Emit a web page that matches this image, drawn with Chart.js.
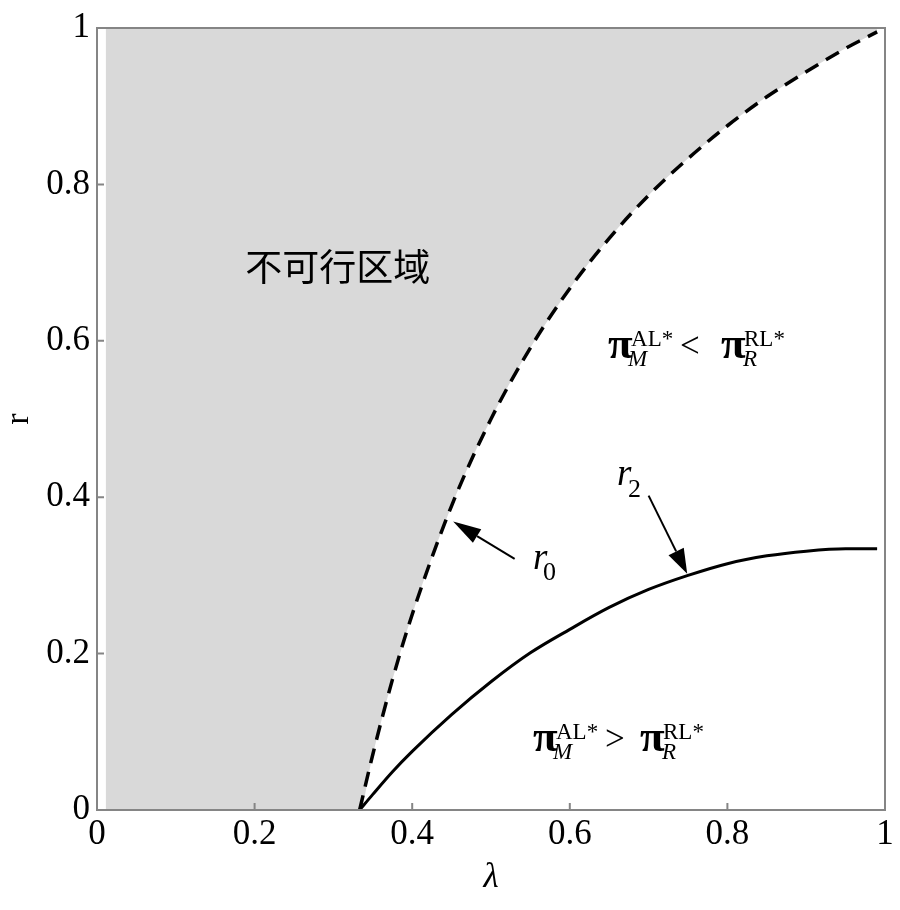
<!DOCTYPE html>
<html>
<head>
<meta charset="utf-8">
<script src="https://cdn.jsdelivr.net/npm/chart.js@4.4.1/dist/chart.umd.min.js"></script>
<style>
  html, body { margin: 0; padding: 0; background: #fff; }
</style>
</head>
<body>
<canvas id="chart" width="900" height="910"></canvas>
<script>
// values
const lambdaVals = [0.3333, 0.35, 0.375, 0.4, 0.45, 0.5, 0.55, 0.6, 0.65, 0.7, 0.75, 0.8, 0.85, 0.9, 0.95, 0.99];
const r0Vals = [0, 0.071, 0.167, 0.25, 0.389, 0.5, 0.591, 0.667, 0.731, 0.786, 0.833, 0.875, 0.912, 0.944, 0.974, 0.995];
const r2Vals = [0, 0.020, 0.049, 0.075, 0.122, 0.164, 0.201, 0.231, 0.259, 0.282, 0.300, 0.315, 0.325, 0.331, 0.334, 0.334];
// left edge of the shaded (infeasible) region, along r = 0
const boundaryLambda = [0.011, 0.3333];
const boundaryR = [0, 0];
const tickVals = [0, 0.2, 0.4, 0.6, 0.8, 1];

const toPts = (xs, ys) => xs.map((v, i) => ({ x: v, y: ys[i] }));

const SERIF = "'Liberation Serif', 'DejaVu Serif', serif";

// frame + inward ticks
const framePlugin = {
    id: "frame",
    afterDatasetsDraw(chart) {
        const { ctx, chartArea: a, scales: { x, y } } = chart;
        ctx.save();
        ctx.strokeStyle = "#858585";
        ctx.lineWidth = 2;
        ctx.strokeRect(a.left, a.top, a.right - a.left, a.bottom - a.top);
        ctx.beginPath();
        tickVals.forEach(v => {
            const px = x.getPixelForValue(v);
            ctx.moveTo(px, a.bottom);
            ctx.lineTo(px, a.bottom - 7);
            const py = y.getPixelForValue(v);
            ctx.moveTo(a.left, py);
            ctx.lineTo(a.left + 7, py);
        });
        ctx.stroke();
        ctx.restore();
    }
};

function arrow(ctx, x1, y1, x2, y2, headLen, headW) {
    const ang = Math.atan2(y2 - y1, x2 - x1);
    const bx = x2 - headLen * Math.cos(ang), by = y2 - headLen * Math.sin(ang);
    ctx.beginPath();
    ctx.moveTo(x1, y1);
    ctx.lineTo(bx, by);
    ctx.stroke();
    ctx.beginPath();
    ctx.moveTo(x2, y2);
    ctx.lineTo(bx + headW / 2 * Math.sin(ang), by - headW / 2 * Math.cos(ang));
    ctx.lineTo(bx - headW / 2 * Math.sin(ang), by + headW / 2 * Math.cos(ang));
    ctx.closePath();
    ctx.fill();
}

// pi_M^{AL*} (rel) pi_R^{RL*}
function piLabel(ctx, px, py, rel, relDx, pi2Dx) {
    ctx.textBaseline = "alphabetic";
    ctx.textAlign = "left";
    ctx.font = "bold 45px " + SERIF;
    ctx.fillText("π", px, py);
    ctx.fillText("π", px + pi2Dx, py);
    ctx.font = "23px " + SERIF;
    ctx.fillText("AL*", px + 23, py - 12);
    ctx.fillText("RL*", px + pi2Dx + 23, py - 12);
    ctx.font = "italic 23px " + SERIF;
    ctx.fillText("M", px + 20, py + 8);
    ctx.fillText("R", px + pi2Dx + 22, py + 8);
    ctx.font = "35px " + SERIF;
    ctx.fillText(rel, px + relDx, py - 1);
}

const annotPlugin = {
    id: "annot",
    afterDraw(chart) {
        const { ctx, scales: { x, y } } = chart;
        const X = v => x.getPixelForValue(v), Y = v => y.getPixelForValue(v);
        ctx.save();
        ctx.fillStyle = "#000";
        ctx.strokeStyle = "#000";

        ctx.font = "37px 'Noto Sans CJK SC'";
        ctx.textBaseline = "middle";
        ctx.fillText("不可行区域", X(0.188), Y(0.695));

        piLabel(ctx, X(0.6485), Y(0.5774), "<", 72, 113);
        piLabel(ctx, X(0.5533), Y(0.0749), ">", 72, 107);

        ctx.textBaseline = "alphabetic";
        ctx.font = "italic 37px " + SERIF;
        ctx.fillText("r", X(0.5533), Y(0.3084));
        ctx.fillText("r", X(0.6599), Y(0.415));
        ctx.font = "26px " + SERIF;
        ctx.fillText("0", X(0.5533) + 10, Y(0.3084) + 11);
        ctx.fillText("2", X(0.6599) + 11, Y(0.415) + 12);

        ctx.lineWidth = 2;
        arrow(ctx, X(0.530), Y(0.321), X(0.452), Y(0.369), 28, 16);
        arrow(ctx, X(0.700), Y(0.402), X(0.749), Y(0.302), 25, 17);
        ctx.restore();
    }
};

new Chart(document.getElementById("chart"), {
    type: "scatter",
    data: {
        datasets: [
            {
                label: "r0",
                data: toPts(lambdaVals, r0Vals),
                showLine: true,
                borderColor: "#000",
                borderWidth: 3.5,
                borderDash: [15, 9],
                pointRadius: 0,
                fill: false,
                cubicInterpolationMode: "monotone",
                order: 1
            },
            {
                label: "r2",
                data: toPts(lambdaVals, r2Vals),
                showLine: true,
                borderColor: "#000",
                borderWidth: 3,
                pointRadius: 0,
                fill: false,
                cubicInterpolationMode: "monotone",
                order: 1
            },
            {
                // shaded infeasible region above r0 (drawn underneath)
                data: toPts(boundaryLambda, boundaryR).concat(toPts(lambdaVals, r0Vals)),
                showLine: true,
                borderWidth: 0,
                borderColor: "rgba(0,0,0,0)",
                backgroundColor: "#d9d9d9",
                fill: "end",
                pointRadius: 0,
                cubicInterpolationMode: "monotone",
                order: 10
            }
        ]
    },
    options: {
        responsive: false,
        devicePixelRatio: 1,
        animation: false,
        layout: { padding: { top: 21, right: 15, left: 0, bottom: 0 } },
        plugins: { legend: { display: false }, tooltip: { enabled: false } },
        scales: {
            x: {
                type: "linear",
                min: 0,
                max: 1,
                afterFit: s => { s.height = 100; },
                grid: { display: false, drawTicks: false },
                border: { display: false },
                ticks: {
                    stepSize: 0.2,
                    maxRotation: 0,
                    padding: 4,
                    color: "#000",
                    font: { family: SERIF, size: 35 },
                    callback: v => String(+v.toFixed(1))
                },
                title: {
                    display: true,
                    text: "λ",
                    color: "#000",
                    font: { family: SERIF, size: 35, style: "italic", lineHeight: 1 },
                    padding: { top: 0, bottom: 15 }
                }
            },
            y: {
                type: "linear",
                min: 0,
                max: 1,
                afterFit: s => { s.width = 97; },
                grid: { display: false, drawTicks: false },
                border: { display: false },
                ticks: {
                    stepSize: 0.2,
                    padding: 7,
                    color: "#000",
                    font: { family: SERIF, size: 35 },
                    callback: v => String(+v.toFixed(1))
                },
                title: {
                    display: true,
                    text: "r",
                    color: "#000",
                    font: { family: SERIF, size: 34, lineHeight: 1 },
                    padding: { top: 2, bottom: 0 }
                }
            }
        }
    },
    plugins: [framePlugin, annotPlugin]
});
</script>
</body>
</html>
